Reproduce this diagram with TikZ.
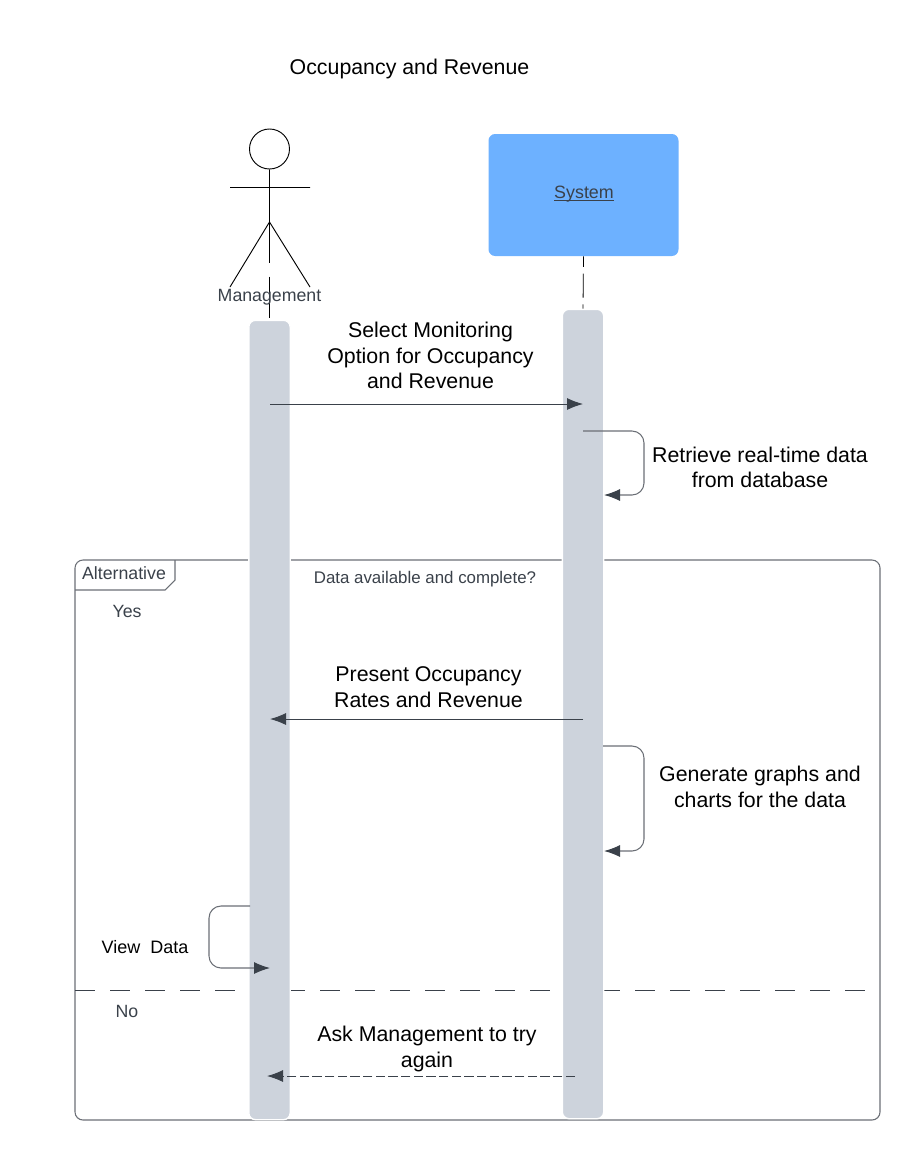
\documentclass[tikz,border=0pt]{standalone}
\usepackage{fontspec}
\setmainfont{Liberation Sans}
\usetikzlibrary{arrows.meta}

\definecolor{barfill}{HTML}{CDD3DC}
\definecolor{sysfill}{HTML}{6DB1FF}
\definecolor{inkdark}{HTML}{3A414A}
\definecolor{framegray}{HTML}{6B6F76}

\begin{document}
\begin{tikzpicture}[x=0.75pt,y=-0.75pt,
	msg/.style={-{Latex[length=12pt,width=9pt,color=inkdark]},draw=inkdark,line width=0.7pt},
	selfmsg/.style={msg,draw=framegray,line width=0.8pt,rounded corners=9pt},
	bar/.style={draw=white,line width=1pt,fill=barfill,rounded corners=5pt,minimum width=31pt,inner sep=0pt},
	msglabel/.style={align=center,font=\fontsize{16}{19.2}\selectfont,text=black},
	framelabel/.style={font=\fontsize{13.3}{15}\selectfont,text=inkdark}]

\useasboundingbox (0,0) rectangle (920,1160);

\node[font=\fontsize{16}{19}\selectfont](title) at (409.5,68.5){Occupancy and Revenue};

% frame
\draw[framegray,line width=0.8pt,rounded corners=6pt](75,560) rectangle (880,1120);
\draw[framegray,line width=0.8pt](175,560)--(175,580)--(165,590)--(75,590);
\draw[inkdark,line width=0.6pt,dash pattern=on 15pt off 11.25pt](75,990)--(866,990);

% actor
\node[circle,draw=black,line width=0.7pt,minimum size=30pt,inner sep=0pt](head) at (269.5,149){};
\coordinate(hip) at (269.5,222);
\coordinate(armL) at (230,187.5);
\coordinate(armR) at (310,187.5);
\coordinate(legL) at (230,287);
\coordinate(legR) at (310,287);
\draw[line width=0.7pt](head.south)--(hip)(armL)--(armR)(legL)--(hip)--(legR);

% lifelines
\node[bar,minimum height=599.5pt](mgmtbar) at (269.5,720){};
\node[bar,minimum height=607pt](sysbar) at (583,714){};
\node[fill=sysfill,rounded corners=5pt,minimum width=142.5pt,minimum height=91.5pt,inner sep=0pt](sysbox) at (583.5,195){};
\node[font=\fontsize{13.4}{15}\selectfont,text=inkdark](syslabel) at (584,200){\underline{\smash{System}}};
\draw[line width=0.6pt,dash pattern=on 31pt off 10pt](hip)--(mgmtbar.north);
\draw[line width=0.6pt,dash pattern=on 18pt off 5pt,dash phase=10pt](sysbox.south)--(sysbar.north);
\node[framelabel](mgmtlabel) at (269.5,297){Management};

% messages
\coordinate(s1) at (270,404);
\coordinate(e1) at (583,404);
\coordinate(s2) at (583,431);
\coordinate(e2) at (604,495);
\coordinate(s3) at (583,719);
\coordinate(e3) at (270,719);
\coordinate(s4) at (603,746);
\coordinate(e4) at (604,851);
\coordinate(s5) at (250,906);
\coordinate(e5) at (270,968);
\coordinate(s6) at (575,1076);
\coordinate(e6) at (267,1076);

\draw[msg](s1)--(e1);
\draw[selfmsg](s2)-|(644,495)--(e2);
\draw[msg](s3)--(e3);
\draw[selfmsg](s4)-|(644,851)--(e4);
\draw[selfmsg](s5)-|(209,968)--(e5);
\draw[msg,dash pattern=on 7pt off 2.5pt](s6)--(e6);

\node[msglabel](sel) at (430.5,355.5){Select Monitoring\\Option for Occupancy\\and Revenue};
\node[msglabel](ret) at (760,467.5){Retrieve real-time data\\from database};
\node[msglabel](pre) at (428.5,687){Present Occupancy\\Rates and Revenue};
\node[msglabel](gen) at (760,787){Generate graphs and\\charts for the data};
\node[msglabel,font=\fontsize{13.5}{15}\selectfont](view) at (145,947.5){View\ \ Data};
\node[msglabel](ask) at (427,1049){Ask Management to try\\again};

\node[framelabel](alt) at (124,573){Alternative};
\node[framelabel,font=\fontsize{12.65}{15}\selectfont](cond) at (425,579.5){Data available and complete?};
\node[framelabel](yes) at (127,611){Yes};
\node[framelabel](no) at (127,1011){No};

\end{tikzpicture}
\end{document}
